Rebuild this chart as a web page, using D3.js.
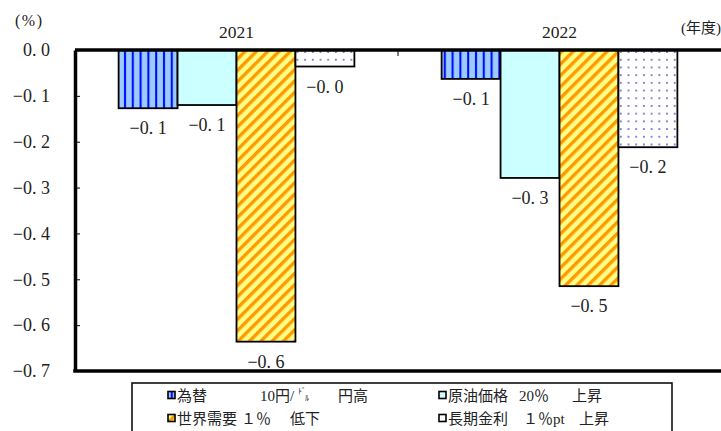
<!DOCTYPE html>
<html><head><meta charset="utf-8">
<script src="https://cdn.jsdelivr.net/npm/d3@7"></script>
<style>
html,body{margin:0;padding:0;background:#fff;}
svg{display:block;font-family:"Liberation Serif","Noto Sans CJK JP",serif;}
</style></head>
<body><svg id="c" width="721" height="431"></svg>
<script>
// ---- data ----
const years = ["2021", "2022"];
const seriesKeys = ["fx", "oil", "demand", "rate"];
const fxValues = [-0.127, -0.063];
const oilValues = [-0.120, -0.279];
const demandValues = [-0.636, -0.515];
const rateValues = [-0.036, -0.212];
const yTicks = [0, -0.1, -0.2, -0.3, -0.4, -0.5, -0.6, -0.7];
const legendNames = ["為替", "原油価格", "世界需要", "長期金利"];
const legendDetails = [["10円/", "ﾄﾞ", "ﾙ", "円高"], ["20％", "上昇"], ["１％", "低下"], ["１％pt", "上昇"]];
const yUnit = "(%)";
const xUnit = "(年度)";

const valuesByKey = {fx: fxValues, oil: oilValues, demand: demandValues, rate: rateValues};

const svg = d3.select("#c");
const defs = svg.append("defs");

// patterns
const pFx = defs.append("pattern").attr("id","p-fx").attr("patternUnits","userSpaceOnUse")
  .attr("width",7.8).attr("height",10).attr("x",121);
pFx.append("rect").attr("width",7.8).attr("height",10).attr("fill","#99CCFF");
pFx.append("rect").attr("x",3).attr("width",2).attr("height",10).attr("fill","#0000FF");

const pOil = defs.append("pattern").attr("id","p-oil").attr("patternUnits","userSpaceOnUse")
  .attr("width",10).attr("height",10);
pOil.append("rect").attr("width",10).attr("height",10).attr("fill","#CCFFFF");

const pDem = defs.append("pattern").attr("id","p-demand").attr("patternUnits","userSpaceOnUse")
  .attr("width",8).attr("height",8).attr("patternTransform","rotate(45)");
pDem.append("rect").attr("width",8).attr("height",8).attr("fill","#FFFF88");
pDem.append("rect").attr("width",3.4).attr("height",8).attr("fill","#FF9900");

const pRate = defs.append("pattern").attr("id","p-rate").attr("patternUnits","userSpaceOnUse")
  .attr("width",7.7).attr("height",7.7).attr("x",1).attr("y",2);
pRate.append("rect").attr("width",7.7).attr("height",7.7).attr("fill","#ffffff");
pRate.append("circle").attr("cx",3.8).attr("cy",3.8).attr("r",1.0).attr("fill","#6060CC");

const fills = {fx:"url(#p-fx)", oil:"url(#p-oil)", demand:"url(#p-demand)", rate:"url(#p-rate)"};

// scales
const plotLeft = 75, plotRight = 721, plotTop = 50, plotBottom = 371;
const y = d3.scaleLinear().domain([0, -0.7]).range([plotTop, plotBottom]);
const x0 = d3.scaleBand().domain(years).range([plotLeft, plotRight]).padding(0);
const x1 = d3.scaleBand().domain(seriesKeys).range([0, x0.bandwidth()]).paddingInner(0).paddingOuter(0.74);

const fmt = v => (v < 0 ? "−" : "") + Math.abs(v).toFixed(1).replace(".", ". ");

// bars
const data = [];
years.forEach((yr, i) => seriesKeys.forEach(k => data.push({year: yr, key: k, value: valuesByKey[k][i]})));

svg.append("g").selectAll("rect").data(data).join("rect")
  .attr("x", d => x0(d.year) + x1(d.key))
  .attr("y", y(0))
  .attr("width", x1.bandwidth())
  .attr("height", d => y(d.value) - y(0))
  .attr("fill", d => fills[d.key])
  .attr("stroke", "#000").attr("stroke-width", 1.8);

// value labels
svg.append("g").selectAll("text").data(data).join("text")
  .attr("x", d => x0(d.year) + x1(d.key) + x1.bandwidth()/2)
  .attr("y", d => y(d.value) + 26)
  .attr("text-anchor", "middle")
  .attr("font-size", 18).attr("fill", "#222")
  .text(d => fmt(d.value));

// y axis
const yAxis = d3.axisLeft(y).tickValues(yTicks).tickFormat(fmt).tickSizeInner(-5).tickSizeOuter(0).tickPadding(25);
const gy = svg.append("g").attr("transform", `translate(${plotLeft},0)`).call(yAxis);
gy.select(".domain").attr("stroke","#000").attr("stroke-width",3.5);
gy.selectAll(".tick line").attr("stroke","#000").attr("stroke-width",1);
gy.selectAll(".tick text").attr("font-size",18).attr("fill","#222").attr("font-family","Liberation Serif");

// zero line (top) and bottom line
svg.append("line").attr("x1", plotLeft).attr("x2", plotRight).attr("y1", y(0)).attr("y2", y(0))
  .attr("stroke","#000").attr("stroke-width",3.5);
svg.append("line").attr("x1", plotLeft-1.75).attr("x2", plotRight).attr("y1", y(-0.7)).attr("y2", y(-0.7))
  .attr("stroke","#000").attr("stroke-width",3.5);
// category boundary tick
svg.append("line").attr("x1", x0("2022")).attr("x2", x0("2022")).attr("y1", y(0)).attr("y2", y(0)+6)
  .attr("stroke","#000").attr("stroke-width",1);

// category labels
svg.append("g").selectAll("text").data(years).join("text")
  .attr("x", d => x0(d) + x0.bandwidth()/2)
  .attr("y", 38).attr("text-anchor","middle").attr("font-size",17.5).attr("fill","#222")
  .text(d => d);

svg.append("text").attr("x", 15).attr("y", 26).attr("font-size", 16).attr("letter-spacing", 1.5).attr("fill","#222").text(yUnit);
svg.append("text").attr("x", 721).attr("y", 33).attr("text-anchor","end").attr("font-size", 15).attr("fill","#222").text(xUnit);

// legend
svg.append("rect").attr("x",132).attr("y",383).attr("width",540).attr("height",70)
  .attr("fill","#fff").attr("stroke","#000").attr("stroke-width",1.5);
const legendKeysOrder = ["fx","oil","demand","rate"];
const legPos = [[168,395],[439,395],[168,418],[439,418]];
const detailOffsets = [[83, 121, 128, 161],[71,124],[64,113],[75,131]];
legendKeysOrder.forEach((k, i) => {
  const [lx, ly] = legPos[i];
  const g = svg.append("g");
  g.append("rect").attr("x", lx).attr("y", ly-3.5).attr("width",7).attr("height",7)
    .attr("fill", fills[k]).attr("stroke","#000").attr("stroke-width",1.6);
  g.append("text").attr("x", lx+9).attr("y", ly+6).attr("font-size",15).attr("fill","#222")
    .text(legendNames[i]);
  const parts = legendDetails[i];
  const offs = detailOffsets[i];
  parts.forEach((p, j) => {
    let fs = 15, dy = 6;
    if (k === "fx" && j === 1) { fs = 8; dy = -1; }
    if (k === "fx" && j === 2) { fs = 8; dy = 6; }
    g.append("text").attr("x", lx + 9 + offs[j]).attr("y", ly + dy).attr("font-size", fs).attr("fill","#222").text(p);
  });
});
</script></body></html>
